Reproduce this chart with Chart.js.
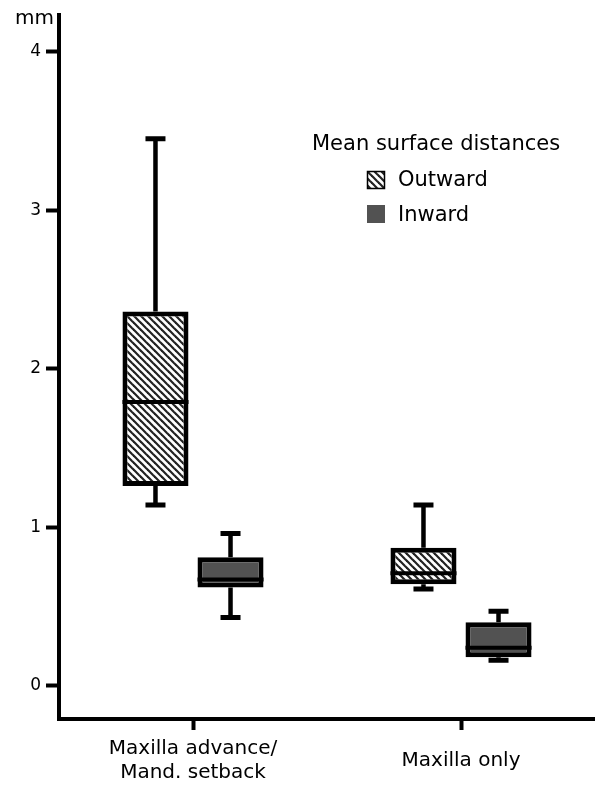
<!DOCTYPE html>
<html><head><meta charset="utf-8">
<script src="https://cdn.jsdelivr.net/npm/chart.js@4.4.1/dist/chart.umd.min.js"></script>
<style>html,body{margin:0;padding:0;background:#fff}#wrap{width:595px;height:788px;position:relative}</style>
</head><body><div id="wrap"><canvas id="c" width="595" height="788"></canvas></div>
<script>
// ---- data ----
const categories = [['Maxilla advance/', 'Mand. setback'], 'Maxilla only'];
const seriesNames = ['Outward', 'Inward'];
const outwardMin = [1.14, 0.61];
const outwardQ1 = [1.26, 0.64];
const outwardMedian = [1.79, 0.71];
const outwardQ3 = [2.36, 0.87];
const outwardMax = [3.45, 1.14];
const inwardMin = [0.43, 0.16];
const inwardQ1 = [0.62, 0.18];
const inwardMedian = [0.67, 0.24];
const inwardQ3 = [0.81, 0.40];
const inwardMax = [0.96, 0.47];
const yTicks = [0, 1, 2, 3, 4];
const yTitle = 'mm';
const legendTitle = 'Mean surface distances';

// ---- styles ----
const FONT = '"DejaVu Sans", "Liberation Sans", Arial, sans-serif';
const INWARD_FILL = '#525252';

function makeHatch() {
  const s = 7;
  const c = document.createElement('canvas');
  c.width = s; c.height = s;
  const g = c.getContext('2d');
  g.fillStyle = '#fff';
  g.fillRect(0, 0, s, s);
  g.strokeStyle = '#222';
  g.lineWidth = 2.2;
  for (let k = -1; k <= 1; k++) {
    g.beginPath();
    g.moveTo(k * s - 1, -1);
    g.lineTo(k * s + s + 1, s + 1);
    g.stroke();
  }
  return document.getElementById('c').getContext('2d').createPattern(c, 'repeat');
}
const hatch = makeHatch();

const boxPlugin = {
  id: 'boxWhiskers',
  beforeDatasetsDraw(chart) {
    const ctx = chart.ctx, y = chart.scales.y;
    chart.data.datasets.forEach((ds, di) => {
      const meta = chart.getDatasetMeta(di);
      meta.data.forEach((bar, i) => {
        const x = bar.x;
        const yQ1 = y.getPixelForValue(ds.q1[i]);
        const yQ3 = y.getPixelForValue(ds.q3[i]);
        const yMin = y.getPixelForValue(ds.whiskerMin[i]);
        const yMax = y.getPixelForValue(ds.whiskerMax[i]);
        ctx.save();
        ctx.strokeStyle = '#000';
        ctx.lineWidth = 4.5;
        ctx.beginPath();
        ctx.moveTo(x, yQ3); ctx.lineTo(x, yMax);
        ctx.moveTo(x, yQ1); ctx.lineTo(x, yMin);
        ctx.stroke();
        ctx.lineWidth = 5;
        ctx.beginPath();
        ctx.moveTo(x - 10, yMax); ctx.lineTo(x + 10, yMax);
        ctx.moveTo(x - 10, yMin); ctx.lineTo(x + 10, yMin);
        ctx.stroke();
        ctx.restore();
      });
    });
  },
  afterDatasetsDraw(chart) {
    const ctx = chart.ctx, y = chart.scales.y;
    chart.data.datasets.forEach((ds, di) => {
      const meta = chart.getDatasetMeta(di);
      meta.data.forEach((bar, i) => {
        const ym = y.getPixelForValue(ds.median[i]);
        ctx.save();
        ctx.strokeStyle = '#000';
        ctx.lineWidth = 4;
        ctx.beginPath();
        ctx.moveTo(bar.x - bar.width / 2, ym);
        ctx.lineTo(bar.x + bar.width / 2, ym);
        ctx.stroke();
        ctx.restore();
      });
    });
  },
  afterDraw(chart) {
    const ctx = chart.ctx;
    ctx.save();
    ctx.fillStyle = '#000';
    ctx.textBaseline = 'alphabetic';
    ctx.textAlign = 'left';
    ctx.font = '20px ' + FONT;
    ctx.fillText(yTitle, 15, 24);
    ctx.font = '21px ' + FONT;
    ctx.fillText(legendTitle, 312, 150);
    const ds = chart.data.datasets;
    // Outward swatch
    ctx.fillStyle = ds[0].backgroundColor;
    ctx.fillRect(367, 171, 18, 18);
    ctx.strokeStyle = '#000';
    ctx.lineWidth = 1.5;
    ctx.strokeRect(367.5, 171.5, 17, 17);
    ctx.fillStyle = '#000';
    ctx.fillText(ds[0].label, 398, 186);
    // Inward swatch
    ctx.fillStyle = ds[1].backgroundColor;
    ctx.fillRect(367, 205, 18, 18);
    ctx.fillStyle = '#000';
    ctx.fillText(ds[1].label, 398, 221);
    ctx.restore();
  }
};

new Chart(document.getElementById('c'), {
  type: 'bar',
  data: {
    labels: categories,
    datasets: [
      {
        label: seriesNames[0],
        data: outwardQ1.map((v, i) => [v, outwardQ3[i]]),
        q1: outwardQ1, q3: outwardQ3, median: outwardMedian, whiskerMin: outwardMin, whiskerMax: outwardMax,
        backgroundColor: hatch,
        borderColor: '#000', borderWidth: 5, borderSkipped: false,
        categoryPercentage: 0.56, barPercentage: 0.88
      },
      {
        label: seriesNames[1],
        data: inwardQ1.map((v, i) => [v, inwardQ3[i]]),
        q1: inwardQ1, q3: inwardQ3, median: inwardMedian, whiskerMin: inwardMin, whiskerMax: inwardMax,
        backgroundColor: INWARD_FILL,
        borderColor: '#000', borderWidth: 5, borderSkipped: false,
        categoryPercentage: 0.56, barPercentage: 0.88
      }
    ]
  },
  options: {
    responsive: false,
    animation: false,
    events: [],
    layout: { padding: { top: 14, right: -3, left: 0, bottom: 0 } },
    plugins: { legend: { display: false }, tooltip: { enabled: false } },
    scales: {
      x: {
        offset: true,
        grid: { display: true, offset: false, drawOnChartArea: false, drawTicks: true, tickLength: 11, tickWidth: 4, tickColor: '#000' },
        border: { display: true, width: 4, color: '#000' },
        ticks: { color: '#000', font: { family: FONT, size: 20 }, padding: 19, crossAlign: 'center', maxRotation: 0, autoSkip: false },
        afterFit(scale) { scale.height = 69; }
      },
      y: {
        min: -0.21, max: 4.23,
        grid: { display: true, drawOnChartArea: false, drawTicks: true, tickLength: 13, tickWidth: 4, tickColor: '#000' },
        border: { display: true, width: 4, color: '#000' },
        ticks: { color: '#000', font: { family: FONT, size: 17 }, padding: 5 },
        afterBuildTicks(scale) { scale.ticks = yTicks.map(v => ({ value: v })); },
        afterFit(scale) { scale.width = 59; }
      }
    }
  },
  plugins: [boxPlugin]
});
</script>
</body></html>
